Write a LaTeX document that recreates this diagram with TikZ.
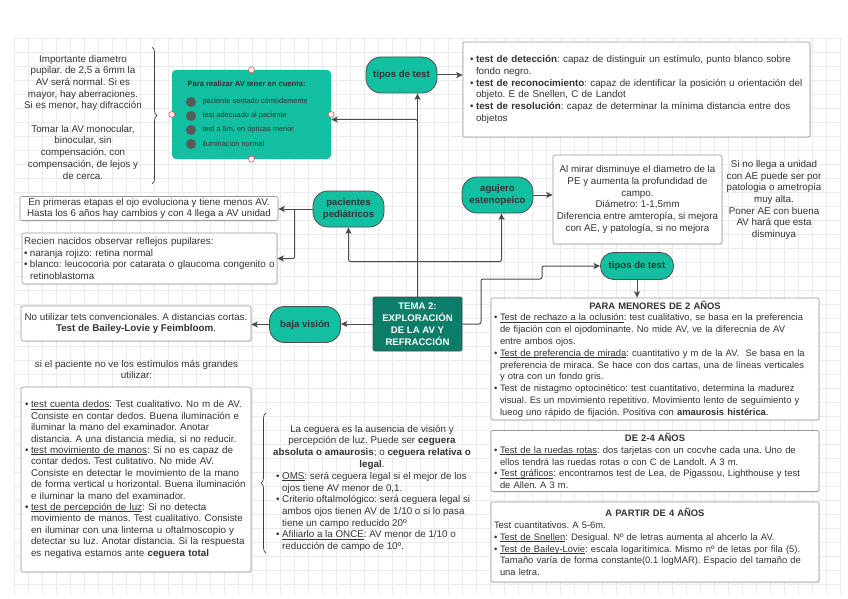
\documentclass[tikz,border=0pt]{standalone}
\usepackage{fontspec}
\setmainfont{Liberation Sans}
\usetikzlibrary{arrows.meta,decorations.pathreplacing,shadows}

\definecolor{tealmid}{HTML}{12BFA0}
\definecolor{tealdark}{HTML}{0B7D69}
\definecolor{inkgray}{HTML}{333333}

\frenchspacing
\hyphenpenalty=10000
\exhyphenpenalty=10000
\newcommand{\bodyfont}{\fontsize{9.8}{11.7}\selectfont}
\newcommand{\agefont}{\fontsize{9.4}{11.8}\selectfont}
\newcommand{\bitem}{\makebox[6pt][l]{\textbullet}}
\newcommand{\bcont}{\hspace*{6pt}}
\newsavebox{\ulbox}
\newcommand{\uln}[1]{\sbox{\ulbox}{#1}\rlap{\rule[-1.3pt]{\wd\ulbox}{0.5pt}}\usebox{\ulbox}}

\begin{document}
\begin{tikzpicture}[x=1pt, y=-1pt,
    gridline/.style={draw=black!8, line width=0.4pt},
    stad/.style={draw=black!70, line width=0.8pt, fill=tealmid, rounded corners=15pt,
                 minimum width=71pt, minimum height=36pt, inner sep=1pt, align=center,
                 text=inkgray, font=\bfseries\fontsize{9.6}{11.4}\selectfont},
    core/.style={draw=black!70, line width=0.8pt, fill=tealdark, rounded corners=1.5pt,
                 minimum width=89pt, minimum height=54pt, inner sep=1pt, align=center,
                 text=white, font=\bfseries\fontsize{9.6}{11.8}\selectfont},
    tbox/.style={draw=black!40, line width=0.6pt, fill=white, rounded corners=2pt,
                 drop shadow={opacity=0.18, shadow xshift=0.8pt, shadow yshift=-1pt},
                 text=inkgray, font=\bodyfont},
    agebox/.style={tbox, minimum width=328pt, text width=322pt, inner xsep=3pt, inner ysep=1pt,
                 align=left, font=\agefont},
    note/.style={align=center, text=inkgray, font=\bodyfont},
    wire/.style={draw=black!70, line width=1pt, rounded corners=2pt},
    arr/.style={wire, -{Stealth[length=6.5pt,width=6pt,inset=1.5pt]}},
    brc/.style={draw=black!75, line width=0.7pt, decorate, decoration={brace, amplitude=5pt}},
    hmark/.style={draw=red!70, fill=white, line width=0.6pt},
    gdot/.style={fill=black!65}
]
\useasboundingbox (0,0) rectangle (848,599);
\fill[white] (0,0) rectangle (848,599);

% background grid
\foreach \gx in {14,28,...,840} \draw[gridline] (\gx,38) -- (\gx,594);
\foreach \gy in {38,52,...,594} \draw[gridline] (14,\gy) -- (842,\gy);

% main nodes
\node[core] (tema) at (417.5,324) {TEMA 2:\\EXPLORACIÓN\\DE LA AV Y\\REFRACCIÓN};
\node[stad] (tipos1) at (401.5,75) {tipos de test};
\node[stad] (ped) at (348.5,209) {pacientes\\pediátricos};
\node[stad] (aguj) at (497.5,195) {agujero\\estenopeico};
\node[stad] (baja) at (305,324.5) {baja visión};
\node[stad, minimum width=73pt, minimum height=27pt, rounded corners=13pt] (tipos2) at (637,266) {tipos de test};

% green box
\node[fill=tealmid, rounded corners=4pt, minimum width=159pt, minimum height=89pt] (gbox) at (251.5,114.5) {};
\node[anchor=west, text=inkgray, font=\bfseries\fontsize{7.6}{9}\selectfont] (gtitle) at (184,84) {Para realizar AV tener en cuenta:};
\foreach \i/\t in {0/paciente sentado cómodamente, 1/test adecuado al paciente,
                   2/{test a 6m, en ópticas menor}, 3/iluminación normal} {
  \fill[gdot] (191,102+14*\i) circle (5pt);
  \node[anchor=west, text=inkgray, font=\fontsize{7.4}{9}\selectfont] (gitem\i) at (199,102+14*\i) {\t};
}
\foreach \a in {north,south,east,west} \draw[hmark] (gbox.\a) circle (3pt);

% texts left
\node[note] (pupil) at (83,117) {Importante diametro\\pupilar. de 2,5 a 6mm la\\AV será normal. Si es\\mayor, hay aberraciones.\\Si es menor, hay difracción\\[11.7pt]Tomar la AV monocular,\\binocular, sin\\compensación, con\\compensación, de lejos y\\de cerca.};
\draw[brc] (152,47) -- (152,184);

\node[tbox, minimum width=258pt, minimum height=24pt, inner ysep=0.5pt, align=center] (box1) at (149,208.5)
  {En primeras etapas el ojo evoluciona y tiene menos AV.\\Hasta los 6 años hay cambios y con 4 llega a AV unidad};
\node[tbox, minimum width=255pt, minimum height=51pt, text width=251pt, inner xsep=2pt, inner ysep=1pt, align=left] (box2) at (149.5,258.5)
  {Recien nacidos observar reflejos pupilares:\\
   \bitem naranja rojizo: retina normal\\
   \bitem blanco: leucocoria por catarata o glaucoma congenito o\\
   \bcont retinoblastoma};

\node[tbox, minimum width=230pt, minimum height=35pt, align=center] (bajabox) at (136,323.5)
  {No utilizar tets convencionales. A distancias cortas.\\\textbf{Test de Bailey-Lovie y Feimbloom}.};
\node[note] (bajanote) at (136.5,369.5) {si el paciente no ve los estímulos más grandes\\utilizar:};
\node[tbox, minimum width=230pt, minimum height=185pt, text width=222pt, inner xsep=4pt, align=left,
      font=\fontsize{9.8}{11.4}\selectfont] (blbox) at (136,479.5)
  {\noindent\bitem\uln{test cuenta dedos}: Test cualitativo. No m de AV.\\
   \bcont Consiste en contar  dedos. Buena iluminación e\\
   \bcont iluminar la mano del examinador. Anotar\\
   \bcont distancia. A una distancia media, si no reducir.\\
   \bitem\uln{test movimiento de manos}: Si no es capaz de\\
   \bcont contar dedos. Test culitativo. No mide AV.\\
   \bcont Consiste en detectar le movimiento de la mano\\
   \bcont de forma vertical u horizontal. Buena iluminación\\
   \bcont e iluminar la mano del examinador.\\
   \bitem\uln{test de percepción de luz}: Si no detecta\\
   \bcont movimiento de manos. Test cualitativo. Consiste\\
   \bcont en iluminar con una linterna u oftalmoscopio y\\
   \bcont detectar su luz. Anotar distancia. Si la respuesta\\
   \bcont es negativa estamos ante \textbf{ceguera total}};

% ceguera
\draw[brc] (266,553) -- (266,413);
\node[note] (cegtitle) at (372,447) {La ceguera es la ausencia de visión y\\percepción de luz. Puede ser \textbf{ceguera}\\\textbf{absoluta o amaurosis}; o \textbf{ceguera relativa o}\\\textbf{legal}.};
\node[note, align=left, anchor=west, inner sep=0pt] (ceglist) at (276,512)
  {\bitem\uln{OMS}: será ceguera legal si el mejor de los\\
   \bcont ojos tiene AV menor de 0,1.\\
   \bitem Criterio oftalmológico: será ceguera legal si\\
   \bcont ambos ojos tienen AV de 1/10 o si lo pasa\\
   \bcont tiene un campo reducido 20º\\
   \bitem\uln{Afiliarlo a la ONCE}: AV menor de 1/10 o\\
   \bcont reducción de campo de 10º.};

% texts right
\node[tbox, minimum width=347pt, minimum height=95pt, text width=333pt, inner xsep=7pt, align=left] (detbox) at (636.5,89.5)
  {\noindent\bitem\textbf{test de detección}: capaz de distinguir un estímulo, punto blanco sobre\\
   \bcont fondo negro.\\
   \bitem\textbf{test de reconocimiento}: capaz de identificar la posición u orientación del\\
   \bcont objeto. E de Snellen, C de Landot\\
   \bitem\textbf{test de resolución}: capaz de determinar la mínima distancia entre dos\\
   \bcont objetos};
\node[tbox, minimum width=169pt, minimum height=89pt, align=center] (pebox) at (637.5,199.5)
  {Al mirar disminuye el diametro de la\\PE y aumenta la profundidad de\\campo.\\Diámetro: 1-1,5mm\\Diferencia entre amteropía, si mejora\\con AE, y patología, si no mejora};
\node[note] (penote) at (774,200) {Si no llega a unidad\\con AE puede ser por\\patologia o ametropía\\muy alta.\\Poner AE con buena\\AV hará que esta\\disminuya};

\node[agebox, minimum height=122pt, inner ysep=2pt] (menores) at (655,359)
  {\noindent\makebox[\hsize][c]{\textbf{PARA MENORES DE 2 AÑOS}}\\
   \bitem\uln{Test de rechazo a la oclusión}: test cualitativo, se basa en la preferencia\\
   \bcont de fijación con el ojodominante. No mide AV, ve la diferecnia de AV\\
   \bcont entre ambos ojos.\\
   \bitem\uln{Test de preferencia de mirada}: cuantitativo y m de la AV.\ \ Se basa en la\\
   \bcont preferencia de miraca. Se hace con dos cartas, una de líneas verticales\\
   \bcont y otra con un fondo gris.\\
   \bitem Test de nistagmo optocinético: test cuantitativo, determina la madurez\\
   \bcont visual. Es un movimiento repetitivo. Movimiento lento de seguimiento y\\
   \bcont lueog uno rápido de fijación. Positiva con \textbf{amaurosis histérica}.};
\node[agebox, minimum height=61pt] (de24) at (655,461)
  {\noindent\makebox[\hsize][c]{\textbf{DE 2-4 AÑOS}}\\
   \bitem\uln{Test de la ruedas rotas}: dos tarjetas con un cocvhe cada una. Uno de\\
   \bcont ellos tendrá las ruedas rotas o con C de Landolt. A 3 m.\\
   \bitem\uln{Test gráficos}: encontramos test de Lea, de Pigassou, Lighthouse y test\\
   \bcont de Allen. A 3 m.};
\node[agebox, minimum height=80pt] (apartir) at (655,542)
  {\noindent\makebox[\hsize][c]{\textbf{A PARTIR DE 4 AÑOS}}\\
   Test cuantitativos. A 5-6m.\\
   \bitem\uln{Test de Snellen}: Desigual. Nº de letras aumenta al ahcerlo la AV.\\
   \bitem\uln{Test de Bailey-Lovie}: escala logarítimica. Mismo nº de letas por fila (5).\\
   \bcont Tamaño varía de forma constante(0.1 logMAR). Espacio del tamaño de\\
   \bcont una letra.};

% connectors
\coordinate (fork) at ([yshift=35pt]tema.north);
\coordinate (t2a) at (481,279);
\coordinate (t2b) at (542,266);
\coordinate (pfork) at ([xshift=-18pt]ped.west);
\draw[arr] (tema.north) -- (tema.north |- tipos1.south);
\draw[arr] (tema.north) |- ([yshift=-5pt]gbox.east);
\draw[arr] (fork) -| (ped.south);
\draw[arr] (fork) -| ([xshift=4pt]aguj.south);
\draw[arr] (tipos1.east) -- (tipos1.east -| detbox.west);
\draw[arr] (aguj.east) -- (aguj.east -| pebox.west);
\draw[wire] (ped.west) -- (pfork);
\draw[arr] (pfork) -- (pfork -| box1.east);
\draw[arr] (pfork) |- (box2.east);
\draw[arr] (tema.east) -| (t2a) -| (t2b) -- (tipos2.west);
\draw[arr] (tipos2.south) -- (tipos2.south |- menores.north);
\draw[arr] (tema.west) -- (tema.west -| baja.east);
\draw[arr] (baja.west) -- (baja.west -| bajabox.east);
\end{tikzpicture}
\end{document}
